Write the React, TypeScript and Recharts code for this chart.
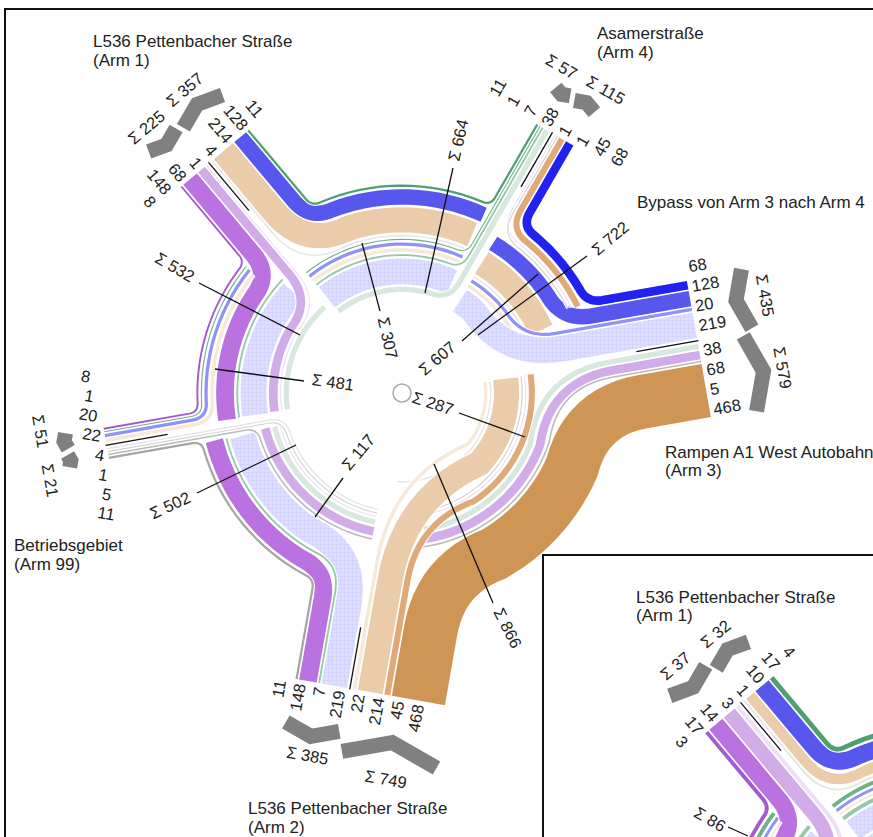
import React from "react";
import { Line, LineChart, XAxis, YAxis } from "recharts";

// flows: origin arm -> destination arm (arm index runs counter-clockwise on the page: 3, 4, 1, 99, 2)
const flowIds = "abcdefghijklmnopqrst".split("");
const flowOrigin = [0, 0, 0, 0, 1, 1, 1, 1, 2, 2, 2, 2, 3, 3, 3, 3, 4, 4, 4, 4];
const flowDest = [1, 2, 3, 4, 2, 3, 4, 0, 3, 4, 0, 1, 4, 0, 1, 2, 0, 1, 2, 3];
const mainValues = [68, 128, 20, 219, 11, 1, 7, 38, 8, 148, 68, 1, 11, 5, 1, 4, 468, 45, 214, 22];
const insetValues = [3, 17, 2, 22, 4, 3, 3, 17, 3, 17, 14, 3, 1, 1, 1, 1, 10, 2, 10, 1];

// lane order, inner to outer / from the arm axis outwards
const sectorOrder = ["dtcpsbolra", "hdgtcfpsbe", "hlkdgjtcfi", "polhkndgjm", "tpsolrhknq"];
const originOrder = ["dcba", "hgfe", "lkji", "ponm", "tsrq"];
const destOrder = ["hknq", "lora", "psbe", "tcfi", "dgjm"];

const ringLabels = ["Σ 664", "Σ 307", "Σ 722", "Σ 607", "Σ 532", "Σ 481", "Σ 502", "Σ 117", "Σ 287", "Σ 866"];
const insetRingLabels = ["Σ 86"];
const nameLines = [
  "L536 Pettenbacher Straße", "(Arm 1)", "Asamerstraße", "(Arm 4)", "Bypass von Arm 3 nach Arm 4",
  "Rampen A1 West Autobahn", "(Arm 3)", "Betriebsgebiet", "(Arm 99)", "L536 Pettenbacher Straße", "(Arm 2)",
];
const insetNameLines = ["L536 Pettenbacher Straße", "(Arm 1)"];

// layout
const armAngles = [10, 60, 130, 190, 260];
const numberRot = [-10, -60, 50, 10, -80];
const numberAnchor = ["start", "start", "end", "end", "end"];
const sumRot = [80, 30, -40, 80, 10];
const ringLabelPos = [
  [458, 140, -77, 453, 168, 425, 293], [388, 338, 77, 362, 243, 380, 311], [610, 238, -40, 587, 256, 478, 335],
  [437, 358, -40, 462, 341, 538, 274], [175, 267, 30, 199, 283, 300, 335], [333, 382, 8, 304, 381, 215, 369],
  [170, 505, -25, 197, 493, 296, 445], [358, 452, -50, 343, 478, 315, 517], [433, 403, 18, 459, 413, 525, 437],
  [508, 628, 63, 434, 464, 493, 603],
];
const insetRingLabelPos = [[710, 819, 30, 728, 827, 748, 836]];
const namePos = [
  [93, 41], [93, 60], [597, 33], [597, 52], [637, 202], [665, 452], [665, 470], [14, 545], [14, 564], [248, 808], [248, 827],
];
const insetNamePos = [[636, 597], [636, 615]];

const flowColors: Record<string, string> = {
  a: "#2222f0", b: "#5757ee", c: "#9292f6", d: "url(#hatch)",
  e: "#4f9f72", f: "#6fb08a", g: "#94c8a8", h: "#d8e8de",
  i: "#a458d2", j: "#b972e0", k: "#d2ace9", l: "#eddff6",
  m: "#a6a6a6", n: "#bababa", o: "#d2d2d2", p: "#e6e6e6",
  q: "#cf9555", r: "#dfaa78", s: "#eaccab", t: "#f5e9da",
};

const ARM_LEN = 300;
const GROUP_GAP = 1.6;
const LANE_GAP = 2.5;
const rad = Math.PI / 180;

type Pt = { x: number; y: number };
type Cfg = { cx: number; cy: number; k: number; r0: number[]; chevK: number; values: number[] };
type Item = { x: number; y: number; text: string; rot: number; anchor: string; size: number };

function buildDiagram(cfg: Cfg) {
  const { cx, cy, k, r0, chevK, values } = cfg;
  const val = (id: string) => values[flowIds.indexOf(id)];
  const w = (id: string) => 1 + val(id) * k;
  const polar = (r: number, a: number): Pt => ({ x: cx + r * Math.cos(a * rad), y: cy - r * Math.sin(a * rad) });
  const armPt = (u: number, v: number, a: number): Pt => ({
    x: cx + u * Math.cos(a * rad) - v * Math.sin(a * rad),
    y: cy - u * Math.sin(a * rad) - v * Math.cos(a * rad),
  });

  const stackV = (order: string[]) =>
    order.map((ids) => {
      const out: Record<string, number> = {};
      let pos = 3;
      for (const id of ids) {
        out[id] = pos + w(id) / 2;
        pos += w(id) + GROUP_GAP;
      }
      return { out, outer: pos };
    });
  const originV = stackV(originOrder);
  const destV = stackV(destOrder);
  const laneR = sectorOrder.map((ids, s) => {
    const out: Record<string, number> = {};
    let pos = r0[s];
    for (const id of ids) {
      out[id] = pos + w(id) / 2;
      pos += w(id) + LANE_GAP;
    }
    return out;
  });

  const quad = (p0: Pt, c: Pt, p2: Pt) => {
    const res: Pt[] = [];
    for (let i = 0; i <= 12; i++) {
      const t = i / 12;
      const m = 1 - t;
      res.push({ x: m * m * p0.x + 2 * m * t * c.x + t * t * p2.x, y: m * m * p0.y + 2 * m * t * c.y + t * t * p2.y });
    }
    return res;
  };

  const cut = (ids: string, vs: Record<string, number>, lanes: Record<string, number>, r: number) => {
    let d = 4;
    for (const g of ids) {
      if (lanes[g] < r) d = Math.max(d, vs[g] + w(g) / 2 + 4);
    }
    return d;
  };

  const passing: { id: string; pts: Pt[] }[] = [];
  const armed: { id: string; pts: Pt[] }[] = [];

  flowIds.forEach((id, f) => {
    const dest = flowDest[f];
    let s = flowOrigin[f];
    for (;;) {
      const next = (s + 1) % 5;
      const a = armAngles[s];
      const b = armAngles[next] + (armAngles[next] < a ? 360 : 0);
      const r = laneR[s][id];
      const first = s === flowOrigin[f];
      const last = next === dest;
      const vo = originV[s].out[id];
      const vd = destV[next].out[id];
      const start = first ? a + Math.asin(vo / r) / rad : a + Math.asin(cut(originOrder[s], originV[s].out, laneR[s], r) / r) / rad;
      const end = last ? b - Math.asin(vd / r) / rad : b - Math.asin(cut(destOrder[next], destV[next].out, laneR[s], r) / r) / rad;
      const budget = ((end - start) * rad * r) / (first && last ? 2.1 : 1.1);
      let t0 = 0;
      let t1 = 0;
      if (first) t0 = Math.min(budget, 6 + w(id) / 2 + 0.85 * (originV[s].outer - vo));
      if (last) t1 = Math.min(budget, 6 + w(id) / 2 + 0.85 * (destV[next].outer - vd));
      const a0 = start + t0 / r / rad;
      const a1 = end - t1 / r / rad;
      const pts: Pt[] = [];
      if (first) {
        const uc = Math.sqrt(r * r - vo * vo);
        pts.push(armPt(ARM_LEN, vo, a));
        pts.push(...quad(armPt(uc + t0, vo, a), polar(r, start), polar(r, a0)));
      }
      const steps = Math.max(2, Math.ceil((a1 - a0) / 3));
      for (let i = 0; i <= steps; i++) pts.push(polar(r, a0 + ((a1 - a0) * i) / steps));
      if (last) {
        const uc = Math.sqrt(r * r - vd * vd);
        pts.push(...quad(polar(r, a1), polar(r, end), armPt(uc + t1, -vd, armAngles[next])));
        pts.push(armPt(ARM_LEN, -vd, armAngles[next]));
      }
      (first || last ? armed : passing).push({ id, pts });
      if (last) break;
      s = next;
    }
  });

  // arm end numbers, sum chevrons and separators
  const numbers: Item[] = [];
  const chevrons: Pt[][] = [];
  const separators: Pt[][] = [];
  armAngles.forEach((a, arm) => {
    const rot = numberRot[arm];
    const anchor = numberAnchor[arm];
    [...originOrder[arm]].forEach((id, i) => {
      const p = armPt(304, 10 + 20 * i + (arm === 0 ? 5 : 0), a);
      numbers.push({ ...p, text: String(val(id)), rot, anchor, size: 16.5 });
    });
    [...destOrder[arm]].forEach((id, i) => {
      const p = armPt(304, -(10 + 20 * i), a);
      numbers.push({ ...p, text: String(val(id)), rot, anchor, size: 16.5 });
    });
    [originOrder[arm], destOrder[arm]].forEach((ids, side) => {
      const sum = [...ids].reduce((acc, id) => acc + val(id), 0);
      const span = sum * chevK + 10;
      const sign = side === 0 ? 1 : -1;
      const depth = span * 0.18;
      const u0 = Math.min(346, 336 + span * 0.15);
      const uEnd = side === 0 ? u0 + depth : u0;
      const uMid = side === 0 ? u0 : u0 + depth;
      chevrons.push([
        armPt(uEnd, sign * 3, a),
        armPt(uMid, sign * (3 + span / 2), a),
        armPt(uEnd, sign * (3 + span), a),
      ]);
      const p = armPt(Math.min(383, 358 + span * 0.28), sign * Math.max(3 + span / 2, 25), a);
      numbers.push({ ...p, text: "Σ " + sum, rot: sumRot[arm], anchor: "middle", size: 16.5 });
    });
    separators.push([armPt(238, 0, a), armPt(ARM_LEN + 1, 0, a)]);
  });

  return { passing, armed, numbers, chevrons, separators, center: polar(0, 0) };
}

const renderText = (props: any) => {
  const { cx, cy, payload, index } = props;
  return (
    <text
      key={index}
      x={cx}
      y={cy}
      textAnchor={payload.anchor}
      dominantBaseline="central"
      fontSize={payload.size}
      fontFamily="'Liberation Sans', Arial, sans-serif"
      fill="#222"
      transform={`rotate(${payload.rot} ${cx} ${cy})`}
    >
      {payload.text}
    </text>
  );
};

const seriesProps = { dataKey: "y", dot: false, activeDot: false, isAnimationActive: false, legendType: "none" as const };

const Roundabout = ({ cfg, width, height, left, top, names, namesAt, rings, ringsAt }: any) => {
  const d = buildDiagram(cfg);
  // the inset is only partly on the page, its other arms stay out of the picture
  const inView = (t: Item) => t.x > left + 5 && t.x < left + width - 20 && t.y > top + 5 && t.y < top + height - 5;
  const texts: Item[] = [
    ...d.numbers.filter(inView),
    ...names.map((text: string, i: number) => ({ x: namesAt[i][0], y: namesAt[i][1], text, rot: 0, anchor: "start", size: 17 })),
    ...rings.map((text: string, i: number) => ({ x: ringsAt[i][0], y: ringsAt[i][1], text, rot: ringsAt[i][2], anchor: "middle", size: 16.5 })),
  ];
  return (
    <LineChart width={width} height={height} margin={{ top: 0, right: 0, bottom: 0, left: 0 }}>
      <defs>
        <pattern id="hatch" patternUnits="userSpaceOnUse" width="4" height="4">
          <rect width="4" height="4" fill="#dedeff" />
          <path d="M0 0H4M0 0V4" stroke="#cdcdfb" strokeWidth="1" />
        </pattern>
      </defs>
      <XAxis type="number" dataKey="x" domain={[left, left + width]} allowDataOverflow hide />
      <YAxis type="number" domain={[top, top + height]} allowDataOverflow reversed hide />
      {d.passing.map((p, i) => (
        <Line key={"p" + i} {...seriesProps} data={p.pts} stroke={flowColors[p.id]} strokeWidth={1 + cfg.values[flowIds.indexOf(p.id)] * cfg.k} />
      ))}
      {d.armed.map((p, i) => [
        <Line key={"c" + i} {...seriesProps} data={p.pts} stroke="#fff" strokeWidth={3 + cfg.values[flowIds.indexOf(p.id)] * cfg.k} />,
        <Line key={"a" + i} {...seriesProps} data={p.pts} stroke={flowColors[p.id]} strokeWidth={1 + cfg.values[flowIds.indexOf(p.id)] * cfg.k} />,
      ])}
      {d.chevrons.map((pts, i) => (
        <Line key={"v" + i} {...seriesProps} data={pts} stroke="#808080" strokeWidth={15} />
      ))}
      {d.separators.map((pts, i) => (
        <Line key={"s" + i} {...seriesProps} data={pts} stroke="#111" strokeWidth={1.3} />
      ))}
      {ringsAt.map((r: number[], i: number) => (
        <Line key={"l" + i} {...seriesProps} data={[{ x: r[3], y: r[4] }, { x: r[5], y: r[6] }]} stroke="#111" strokeWidth={1.3} />
      ))}
      <Line {...seriesProps} data={[d.center]} stroke="none" dot={{ r: 9, fill: "#fff", stroke: "#aaa", strokeWidth: 1.5 }} />
      <Line {...seriesProps} data={texts} stroke="none" dot={renderText} />
    </LineChart>
  );
};

const mainCfg: Cfg = { cx: 402, cy: 393, k: 0.113, r0: [96, 101, 113, 118, 82], chevK: 0.115, values: mainValues };
const insetCfg: Cfg = { cx: 934, cy: 933, k: 0.95, r0: [95, 100, 95, 100, 95], chevK: 1, values: insetValues };

export default function App() {
  return (
    <div style={{ position: "absolute", left: 0, top: 0, width: 873, height: 837, overflow: "hidden", background: "#fff" }}>
      <div style={{ position: "absolute", left: 4, top: 8, width: 1000, height: 1000, border: "2px solid #111" }} />
      <div style={{ position: "absolute", left: 0, top: 0 }}>
        <Roundabout cfg={mainCfg} width={873} height={837} left={0} top={0} names={nameLines} namesAt={namePos} rings={ringLabels} ringsAt={ringLabelPos} />
      </div>
      <div style={{ position: "absolute", left: 542, top: 554, width: 500, height: 400, border: "2px solid #111", background: "#fff" }} />
      <div style={{ position: "absolute", left: 544, top: 556 }}>
        <Roundabout cfg={insetCfg} width={329} height={281} left={544} top={556} names={insetNameLines} namesAt={insetNamePos} rings={insetRingLabels} ringsAt={insetRingLabelPos} />
      </div>
    </div>
  );
}
